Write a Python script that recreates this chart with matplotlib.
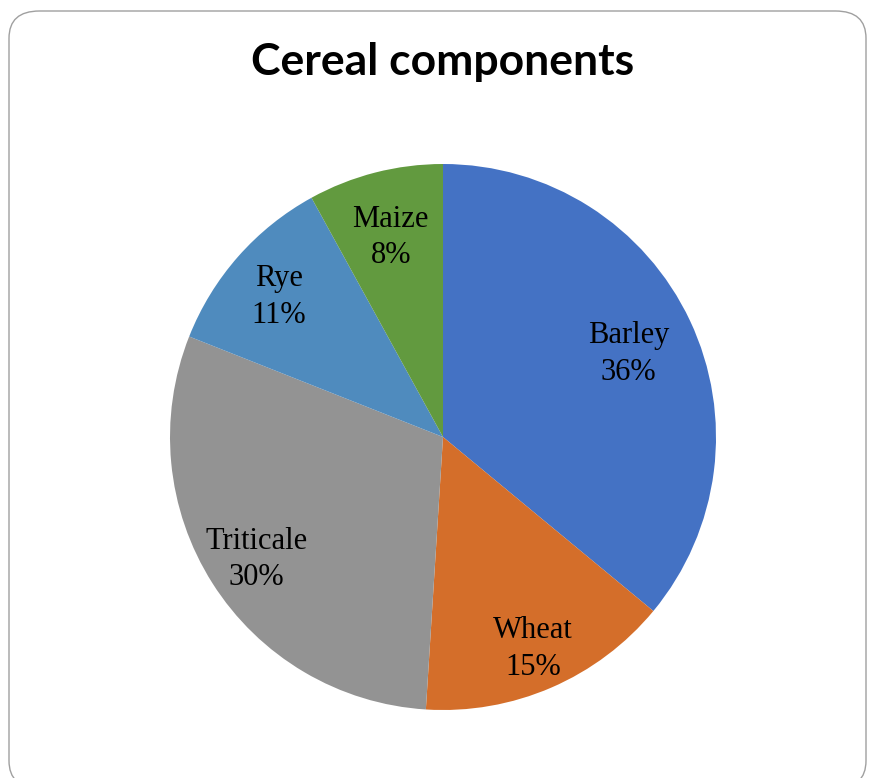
import matplotlib
matplotlib.use("Agg")
import numpy as np
import matplotlib.pyplot as plt
from matplotlib.patches import FancyBboxPatch

# chart data
categories = ["Barley", "Wheat", "Triticale", "Rye", "Maize"]
shares = [36, 15, 30, 11, 8]
colors = ["#4472C4", "#D46E2A", "#939393", "#4F8BBE", "#629A3F"]
# how far out (fraction of radius) each label sits
label_dist = [0.75, 0.83, 0.81, 0.80, 0.77]

fig = plt.figure(figsize=(8.7, 7.78), dpi=100)

# rounded chart-area border (outline only, so it does not hide the pie)
border = FancyBboxPatch((9 / 870, -10 / 778), 857 / 870, 777 / 778,
                        boxstyle="round,pad=0,rounding_size=0.035",
                        transform=fig.transFigure, facecolor="none",
                        edgecolor="#A0A0A0", linewidth=1.0, zorder=5)
fig.patches.append(border)

ax = fig.add_axes([0.1954, 0.0874, 0.6276, 0.7018])

wedges, texts = ax.pie(shares, colors=colors, startangle=90, counterclock=False,
                       radius=1.0, wedgeprops={"linewidth": 0})

# pie() widens the limits, pull them back so the pie fills the axes
ax.set_xlim(-1, 1)
ax.set_ylim(-1, 1)

# labels inside the slices
for w, name, val, d in zip(wedges, categories, shares, label_dist):
    mid = np.deg2rad((w.theta1 + w.theta2) / 2)
    ax.text(d * np.cos(mid), d * np.sin(mid) - 0.015, f"{name}\n{val}%",
            ha="center", va="center", fontsize=22, family="Liberation Serif",
            color="black", linespacing=1.35)

ax.set_aspect("equal")
ax.axis("off")

fig.text(443 / 870, 1 - 62 / 778, "Cereal components", ha="center", va="center",
         fontsize=32, fontweight="bold", family="Lato")

fig.savefig("out.png", dpi=100)
